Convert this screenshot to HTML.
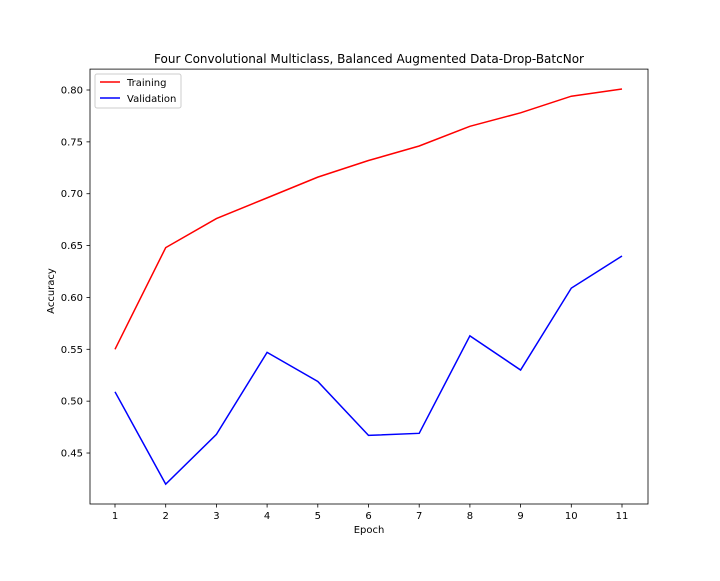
<!DOCTYPE html>
<html><head><meta charset="utf-8"><style>
body{margin:0;background:#fff;}
svg text{font-family:"DejaVu Sans","Liberation Sans",sans-serif;}
</style></head><body>
<svg id="chart" width="720" height="576" xmlns="http://www.w3.org/2000/svg">
<rect width="720" height="576" fill="#fff"/>
<text x="369" y="63" font-size="12" text-anchor="middle">Four Convolutional Multiclass, Balanced Augmented Data-Drop-BatcNor</text>
<g id="axes"></g>
<rect x="90" y="69.1" width="558" height="434.9" fill="none" stroke="#000" stroke-width="0.8"/>
<text x="369" y="533" font-size="10" text-anchor="middle">Epoch</text>
<text x="54" y="291" font-size="10" text-anchor="middle" transform="rotate(-90 54 291)">Accuracy</text>
<g>
<rect x="95" y="74" width="86" height="34" fill="#fff" stroke="#ccc" rx="2"/>
<line x1="100" y1="82" x2="120" y2="82" stroke="red" stroke-width="1.5"/>
<text x="127" y="86" font-size="10">Training</text>
<line x1="100" y1="98" x2="120" y2="98" stroke="blue" stroke-width="1.5"/>
<text x="127" y="102" font-size="10">Validation</text>
</g>
</svg>
<script>
const epochs=[1,2,3,4,5,6,7,8,9,10,11];
const training=[0.550,0.648,0.676,0.696,0.716,0.732,0.746,0.765,0.778,0.794,0.801];
const validation=[0.509,0.420,0.468,0.547,0.519,0.467,0.469,0.563,0.530,0.609,0.640];
const yTicks=[0.45,0.50,0.55,0.60,0.65,0.70,0.75,0.80];
const NS="http://www.w3.org/2000/svg";
function xs(e){return 115+(e-1)*50.7;}
function ys(v){return 90+(0.80-v)/0.05*51.86;}
const g=document.getElementById('axes');
const svg=document.getElementById('chart');
function mk(t,a){const el=document.createElementNS(NS,t);for(const k in a)el.setAttribute(k,a[k]);return el;}
epochs.forEach(e=>{
  const l=mk('line',{x1:xs(e),x2:xs(e),y1:504,y2:507.5,stroke:'#000','stroke-width':0.8});
  
  
  g.appendChild(l);
  const t=mk('text',{x:xs(e),y:519,'font-size':10,'text-anchor':'middle'});
  t.textContent=e;
  
  
  g.appendChild(t);
});
yTicks.forEach(v=>{
  const l=mk('line',{x1:86.5,x2:90,y1:ys(v),y2:ys(v),stroke:'#000','stroke-width':0.8});
  
  
  g.appendChild(l);
  const t=mk('text',{x:83,y:ys(v)+3.5,'font-size':10,'text-anchor':'end'});
  t.textContent=v.toFixed(2);
  
  
  g.appendChild(t);
});
function line(data,color,name){
  const p=mk('polyline',{points:data.map((v,i)=>xs(epochs[i])+','+ys(v)).join(' '),fill:'none',stroke:color,'stroke-width':1.5});
  
  
  svg.appendChild(p);
}
line(training,'red','training-line');
line(validation,'blue','validation-line');
</script>
</body></html>
